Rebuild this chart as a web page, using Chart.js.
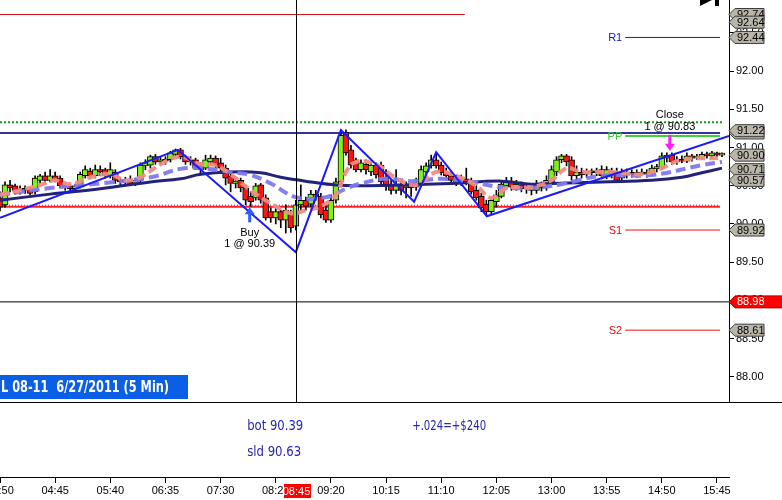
<!DOCTYPE html>
<html lang="en">
<head>
<meta charset="utf-8">
<title>CL 08-11 6/27/2011 (5 Min)</title>
<script src="https://cdn.jsdelivr.net/npm/chart.js@4.4.1/dist/chart.umd.min.js"></script>
<style>
  html, body { margin: 0; padding: 0; background: #ffffff; overflow: hidden; }
  #chart { position: absolute; left: 0; top: 0; }
</style>
</head>
<body>
<canvas id="chart" width="782" height="500"></canvas>
<script>
// bar 0 is 03:50, one candle every 5 minutes
const startMinute = 230;
const barMinutes = 5;

const opens = [
  90.34, 90.25, 90.51, 90.50, 90.43, 90.46, 90.46, 90.42, 90.57, 90.63,
  90.57, 90.63, 90.60, 90.50, 90.50, 90.46, 90.50, 90.63, 90.69, 90.63,
  90.71, 90.71, 90.63, 90.68, 90.57, 90.55, 90.57, 90.53, 90.57, 90.76,
  90.77, 90.88, 90.81, 90.84, 90.84, 90.91, 90.97, 90.88, 90.81, 90.84,
  90.77, 90.73, 90.81, 90.86, 90.80, 90.73, 90.63, 90.53, 90.57, 90.47,
  90.36, 90.34, 90.51, 90.34, 90.16, 90.08, 90.16, 90.05, 90.13, 89.97,
  90.25, 90.31, 90.26, 90.39, 90.36, 90.18, 90.05, 90.31, 90.55, 91.20,
  90.97, 90.84, 90.71, 90.78, 90.68, 90.77, 90.77, 90.60, 90.51, 90.44,
  90.52, 90.47, 90.50, 90.48, 90.53, 90.68, 90.76, 90.84, 90.77, 90.68,
  90.63, 90.60, 90.53, 90.59, 90.55, 90.44, 90.36, 90.26, 90.16, 90.29,
  90.36, 90.50, 90.56, 90.48, 90.51, 90.46, 90.47, 90.44, 90.50, 90.47,
  90.55, 90.68, 90.84, 90.89, 90.84, 90.63, 90.68, 90.65, 90.68, 90.67,
  90.71, 90.63, 90.69, 90.68, 90.60, 90.68, 90.65, 90.67, 90.65, 90.68,
  90.65, 90.72, 90.73, 90.86, 90.90, 90.81, 90.84, 90.82, 90.89, 90.86,
  90.86, 90.91, 90.89, 90.93, 90.90
];
const highs = [
  90.42, 90.55, 90.57, 90.52, 90.50, 90.50, 90.48, 90.63, 90.65, 90.68,
  90.71, 90.68, 90.63, 90.53, 90.52, 90.52, 90.68, 90.76, 90.73, 90.77,
  90.76, 90.73, 90.80, 90.71, 90.61, 90.61, 90.63, 90.60, 90.80, 90.84,
  90.90, 90.91, 90.88, 90.88, 90.95, 90.98, 90.99, 90.90, 90.88, 90.86,
  90.80, 90.90, 90.90, 90.89, 90.86, 90.77, 90.68, 90.60, 90.60, 90.51,
  90.42, 90.53, 90.53, 90.38, 90.21, 90.23, 90.18, 90.25, 90.18, 90.31,
  90.51, 90.35, 90.44, 90.44, 90.40, 90.25, 90.38, 90.60, 91.23, 91.23,
  91.03, 90.86, 90.84, 90.84, 90.81, 90.80, 90.81, 90.71, 90.57, 90.71,
  90.57, 90.55, 90.53, 90.60, 90.76, 90.80, 90.90, 90.93, 90.81, 90.73,
  90.68, 90.64, 90.64, 90.73, 90.60, 90.50, 90.40, 90.31, 90.35, 90.44,
  90.57, 90.61, 90.61, 90.57, 90.55, 90.52, 90.51, 90.57, 90.55, 90.63,
  90.76, 90.88, 90.91, 90.91, 90.88, 90.76, 90.73, 90.72, 90.72, 90.73,
  90.76, 90.75, 90.73, 90.73, 90.72, 90.72, 90.71, 90.71, 90.72, 90.71,
  90.77, 90.78, 90.93, 90.93, 90.93, 90.88, 90.89, 90.93, 90.91, 90.91,
  90.94, 90.94, 90.95, 90.94, 90.93
];
const lows = [
  90.17, 90.22, 90.42, 90.39, 90.39, 90.40, 90.38, 90.39, 90.53, 90.53,
  90.55, 90.55, 90.47, 90.44, 90.42, 90.43, 90.47, 90.60, 90.59, 90.60,
  90.63, 90.60, 90.60, 90.53, 90.51, 90.51, 90.50, 90.50, 90.55, 90.71,
  90.73, 90.78, 90.77, 90.78, 90.81, 90.89, 90.85, 90.78, 90.77, 90.71,
  90.64, 90.71, 90.77, 90.73, 90.68, 90.51, 90.42, 90.47, 90.42, 90.25,
  90.23, 90.31, 90.27, 90.05, 90.02, 90.00, 89.95, 89.88, 89.89, 89.92,
  90.18, 90.18, 90.21, 90.31, 90.08, 90.02, 90.02, 90.27, 90.51, 90.90,
  90.73, 90.68, 90.68, 90.65, 90.63, 90.60, 90.52, 90.44, 90.39, 90.40,
  90.38, 90.34, 90.36, 90.44, 90.51, 90.64, 90.73, 90.73, 90.64, 90.59,
  90.53, 90.50, 90.50, 90.51, 90.39, 90.31, 90.16, 90.12, 90.13, 90.22,
  90.34, 90.46, 90.44, 90.44, 90.42, 90.40, 90.38, 90.40, 90.43, 90.44,
  90.52, 90.63, 90.80, 90.76, 90.57, 90.57, 90.60, 90.61, 90.63, 90.63,
  90.59, 90.59, 90.60, 90.55, 90.56, 90.60, 90.61, 90.61, 90.63, 90.61,
  90.63, 90.68, 90.71, 90.81, 90.78, 90.78, 90.80, 90.80, 90.82, 90.84,
  90.84, 90.86, 90.86, 90.88, 90.88
];
const closes = [
  90.22, 90.51, 90.47, 90.43, 90.46, 90.44, 90.40, 90.60, 90.63, 90.57,
  90.63, 90.57, 90.50, 90.48, 90.46, 90.50, 90.65, 90.71, 90.63, 90.71,
  90.68, 90.63, 90.71, 90.57, 90.55, 90.57, 90.53, 90.57, 90.77, 90.80,
  90.88, 90.81, 90.84, 90.82, 90.93, 90.97, 90.88, 90.81, 90.84, 90.73,
  90.71, 90.84, 90.86, 90.77, 90.73, 90.60, 90.53, 90.56, 90.47, 90.31,
  90.29, 90.50, 90.31, 90.08, 90.08, 90.16, 90.05, 90.18, 89.95, 90.25,
  90.31, 90.23, 90.39, 90.36, 90.12, 90.05, 90.31, 90.55, 91.16, 90.93,
  90.77, 90.71, 90.80, 90.71, 90.77, 90.64, 90.55, 90.50, 90.44, 90.52,
  90.44, 90.50, 90.47, 90.53, 90.71, 90.76, 90.84, 90.76, 90.67, 90.63,
  90.57, 90.52, 90.59, 90.55, 90.42, 90.34, 90.21, 90.16, 90.31, 90.38,
  90.52, 90.56, 90.48, 90.52, 90.46, 90.48, 90.44, 90.50, 90.47, 90.57,
  90.71, 90.84, 90.89, 90.81, 90.63, 90.68, 90.64, 90.68, 90.67, 90.69,
  90.63, 90.71, 90.65, 90.57, 90.68, 90.64, 90.67, 90.65, 90.68, 90.65,
  90.73, 90.75, 90.89, 90.90, 90.81, 90.84, 90.82, 90.89, 90.86, 90.88,
  90.91, 90.89, 90.93, 90.90, 90.90
];

// moving averages at a few bars
const fastBars = [0, 4, 8, 11, 14, 18, 22, 25, 28, 32, 36, 40, 43, 46, 50, 54, 58, 61, 64, 67,
  69, 71, 75, 79, 83, 87, 91, 95, 98, 101, 106, 110, 113, 116, 122, 128, 132, 136, 144];
const fastMa = [90.38, 90.44, 90.51, 90.57, 90.52, 90.61, 90.65, 90.57, 90.61, 90.78, 90.88, 90.78, 90.77, 90.65, 90.44, 90.27, 90.14, 90.18, 90.23, 90.38,
  90.68, 90.81, 90.78, 90.60, 90.51, 90.68, 90.63, 90.50, 90.34, 90.47, 90.48, 90.57, 90.73, 90.68, 90.68, 90.65, 90.73, 90.84, 90.86];
const midBars = [0, 10, 20, 30, 36, 40, 46, 50, 54, 59, 65, 69, 72, 77, 82, 88, 94, 100, 106, 112, 120, 130, 140, 144];
const midMa = [90.38, 90.47, 90.53, 90.61, 90.72, 90.73, 90.68, 90.64, 90.53, 90.35, 90.35, 90.46, 90.53, 90.59, 90.56, 90.59, 90.55, 90.48, 90.47, 90.52, 90.63, 90.64, 90.77, 90.81];
const slowBars = [0, 10, 20, 30, 36, 40, 46, 52, 56, 62, 67, 72, 80, 90, 100, 106, 110, 120, 130, 136, 140, 144];
const slowMa = [90.31, 90.39, 90.46, 90.55, 90.59, 90.65, 90.68, 90.67, 90.61, 90.55, 90.51, 90.50, 90.51, 90.53, 90.56, 90.52, 90.53, 90.55, 90.57, 90.61, 90.67, 90.73];

// zigzag swing points
const swingBars = [0, 35.5, 59, 68, 82.6, 87, 97.1, 145.4];
const swingPrices = [90.08, 90.97, 89.63, 91.23, 90.29, 90.94, 90.10, 91.15];

// horizontal levels
const levelNames = ['top', 'R1', 'highDots', 'high', 'PP', 'low', 'lowDots', 'S1', 'S2', 'last'];
const levelPrices = [92.74, 92.44, 91.33, 91.19, 91.15, 90.225, 90.245, 89.92, 88.61, 88.98];
const levelFrom = [0, 124.7, 0, 0, 124.7, 0, 0, 124.7, 124.7, 0];
const levelTo = [92.7, 143.6, 144, 143.6, 143.6, 143.6, 143.6, 143.6, 143.6, 146];
const pivotNames = ['R1', 'PP', 'S1', 'S2'];

// price tags on the right axis
const tagPrices = [92.74, 92.64, 92.44, 91.19, 91.22, 90.90, 90.71, 90.57, 89.92, 88.61];
const lastPrice = 88.98;

// trades
const buyBar = 50, buyText = '1 @ 90.39';
const closeBar = 134, closeText = '1 @ 90.83';
const crossBar = 59;
const title = 'L 08-11  6/27/2011 (5 Min)';
const notes = ['bot 90.39', 'sld 90.63', '+.024=+$240'];

const sans = "'Liberation Sans', Arial, sans-serif";
const narrow = "'Liberation Sans Narrow', 'DejaVu Sans Condensed', 'Liberation Sans', Arial, sans-serif";

const levelStyle = {
  top: { color: '#cc1111', width: 1 },
  R1: { color: '#1414e6', width: 1, text: '#1414c8' },
  highDots: { color: '#179a17', width: 2, dash: [2, 2] },
  high: { color: '#34349c', width: 2 },
  PP: { color: '#3cd23c', width: 2, text: '#3cc83c' },
  low: { color: '#ff2020', width: 2 },
  lowDots: { color: '#3a3ae0', width: 1, dash: [1, 2] },
  S1: { color: '#ee1111', width: 1, text: '#e01010' },
  S2: { color: '#ee1111', width: 1, text: '#e01010' },
  last: { color: '#000000', width: 1 }
};

const fmtTime = v => {
  const m = startMinute + Math.round(v) * barMinutes;
  return String(Math.floor(m / 60)).padStart(2, '0') + ':' + String(m % 60).padStart(2, '0');
};

const barIdx = opens.map((o, i) => i);

const datasets = [
  { type: 'line', data: swingBars.map((b, i) => ({ x: b, y: swingPrices[i] })),
    borderColor: '#1a1aff', borderWidth: 2, pointRadius: 0, tension: 0, order: 1 },
  { type: 'line', data: fastBars.map((b, i) => ({ x: b, y: fastMa[i] })),
    borderColor: 'rgba(242,140,130,0.95)', borderWidth: 4, borderDash: [9, 4], pointRadius: 0, tension: 0.4, order: 2 },
  { type: 'line', data: midBars.map((b, i) => ({ x: b, y: midMa[i] })),
    borderColor: 'rgba(128,120,240,0.95)', borderWidth: 4, borderDash: [10, 5], pointRadius: 0, tension: 0.4, order: 3 },
  { type: 'line', data: slowBars.map((b, i) => ({ x: b, y: slowMa[i] })),
    borderColor: '#22227a', borderWidth: 3, pointRadius: 0, tension: 0.4, order: 4 },
  { type: 'bar', data: barIdx.map(i => ({ x: i, y: [opens[i], closes[i]] })),
    backgroundColor: barIdx.map(i => closes[i] >= opens[i] ? '#7ff01a' : '#ff1414'),
    borderColor: '#000', borderWidth: 1, borderSkipped: false, barThickness: 6, minBarLength: 2,
    grouped: false, order: 5 },
  { type: 'bar', data: barIdx.map(i => ({ x: i, y: [lows[i], highs[i]] })),
    backgroundColor: '#000', barThickness: 1, grouped: false, order: 6 }
];

levelNames.forEach((name, i) => {
  const st = levelStyle[name];
  datasets.push({
    type: 'line',
    data: [{ x: levelFrom[i], y: levelPrices[i] }, { x: levelTo[i], y: levelPrices[i] }],
    borderColor: st.color, borderWidth: st.width, borderDash: st.dash || [],
    pointRadius: 0, order: name === 'lowDots' ? 7 : 8
  });
});

function drawTag(ctx, tip, cy, text, fill, edge, color, right) {
  ctx.beginPath();
  ctx.moveTo(tip, cy);
  ctx.lineTo(tip + 6, cy - 6);
  ctx.lineTo(right, cy - 6);
  ctx.lineTo(right, cy + 6);
  ctx.lineTo(tip + 6, cy + 6);
  ctx.closePath();
  ctx.fillStyle = fill;
  ctx.fill();
  ctx.strokeStyle = edge;
  ctx.lineWidth = 1;
  ctx.stroke();
  ctx.fillStyle = color;
  ctx.textAlign = 'left';
  ctx.textBaseline = 'middle';
  ctx.fillText(text, tip + 8, cy + 0.5);
}

// squeeze text into a given width (the original uses a narrow face)
function fitText(ctx, text, x, y, width) {
  const w = ctx.measureText(text).width;
  ctx.save();
  ctx.translate(x, y);
  ctx.scale(width / w, 1);
  ctx.fillText(text, 0, 0);
  ctx.restore();
}

const overlay = {
  id: 'overlay',
  afterDraw(chart) {
    const { ctx, chartArea: area } = chart;
    const { x, y, y2 } = chart.scales;
    ctx.save();

    // panel divider and crosshair
    ctx.strokeStyle = '#000';
    ctx.lineWidth = 1;
    const divY = Math.round(y.bottom) + 0.5;
    ctx.beginPath(); ctx.moveTo(0, divY); ctx.lineTo(chart.width, divY); ctx.stroke();
    const cx = Math.round(x.getPixelForValue(crossBar)) + 0.5;
    ctx.beginPath(); ctx.moveTo(cx, area.top); ctx.lineTo(cx, y.bottom); ctx.stroke();

    // pivot names
    ctx.font = '11px ' + sans;
    ctx.textAlign = 'right';
    ctx.textBaseline = 'middle';
    pivotNames.forEach(name => {
      const i = levelNames.indexOf(name);
      ctx.fillStyle = levelStyle[name].text;
      ctx.fillText(name, x.getPixelForValue(levelFrom[i]) - 3, y.getPixelForValue(levelPrices[i]) + 1);
    });

    // buy marker
    const bx = x.getPixelForValue(buyBar) - 1;
    const bt = y.getPixelForValue(lows[buyBar]) + 1;
    ctx.fillStyle = '#2a5cff';
    ctx.beginPath(); ctx.moveTo(bx, bt); ctx.lineTo(bx + 5, bt + 7); ctx.lineTo(bx - 5, bt + 7); ctx.closePath(); ctx.fill();
    ctx.fillRect(bx - 1.5, bt + 6, 3, 9);
    ctx.fillStyle = '#000';
    ctx.textAlign = 'center';
    ctx.fillText('Buy', bx, bt + 26);
    ctx.fillText(buyText, bx, bt + 37);

    // close marker
    const sx = x.getPixelForValue(closeBar) - 2;
    const st = y.getPixelForValue(highs[closeBar]) - 2;
    ctx.fillStyle = '#ff1aff';
    ctx.beginPath(); ctx.moveTo(sx, st); ctx.lineTo(sx + 5, st - 7); ctx.lineTo(sx - 5, st - 7); ctx.closePath(); ctx.fill();
    ctx.fillRect(sx - 1.5, st - 16, 3, 10);
    ctx.fillStyle = '#000';
    ctx.fillText(closeText, sx, st - 24);
    ctx.fillText('Close', sx, st - 36);

    // right axis tags
    tagPrices.forEach(p => drawTag(ctx, area.right, y.getPixelForValue(p), p.toFixed(2), '#b9b5a9', '#3c3c3c', '#000', area.right + 35));
    drawTag(ctx, area.right, y.getPixelForValue(lastPrice), lastPrice.toFixed(2), '#ff0000', '#b00000', '#fff', chart.width + 2);

    // crosshair time on the time axis
    ctx.fillStyle = '#ff0000';
    ctx.fillRect(Math.round(cx) - 13, x.top + 7, 27, 14);
    ctx.fillStyle = '#fff';
    ctx.textAlign = 'center';
    ctx.fillText(fmtTime(crossBar), cx, x.top + 14.5);

    // symbol box
    ctx.fillStyle = '#0b5fe6';
    ctx.fillRect(0, y.bottom - 27, 188, 24);
    ctx.fillStyle = '#fff';
    ctx.font = 'bold 16px ' + narrow;
    ctx.textAlign = 'left';
    fitText(ctx, title, 1, y.bottom - 14.5, 168);

    // trade notes in the lower panel
    ctx.fillStyle = '#2626b0';
    ctx.font = '14px ' + narrow;
    fitText(ctx, notes[0], x.getPixelForValue(49.3), y2.getPixelForValue(0.68), 56);
    fitText(ctx, notes[1], x.getPixelForValue(49.3), y2.getPixelForValue(0.33), 54);
    fitText(ctx, notes[2], x.getPixelForValue(82.2), y2.getPixelForValue(0.68), 74);

    // toolbar glyph cut by the top edge
    ctx.fillStyle = '#000';
    ctx.beginPath(); ctx.moveTo(700, 0); ctx.lineTo(712, 0); ctx.lineTo(700, 6); ctx.closePath(); ctx.fill();
    ctx.fillRect(715, 0, 4, 6);

    ctx.restore();
  }
};

Chart.defaults.font.family = sans;
Chart.defaults.font.size = 11;
Chart.defaults.color = '#000';

new Chart(document.getElementById('chart'), {
  type: 'bar',
  data: { datasets: datasets },
  options: {
    responsive: false,
    animation: false,
    layout: { padding: 0 },
    plugins: { legend: { display: false }, tooltip: { enabled: false } },
    scales: {
      x: {
        type: 'linear', min: 0, max: 145.4, offset: false,
        grid: { drawOnChartArea: false, tickLength: 6, color: '#000', offset: false },
        border: { color: '#000' },
        ticks: { stepSize: 11, includeBounds: false, autoSkip: false, maxRotation: 0, maxTicksLimit: 30,
                 padding: 1, callback: v => fmtTime(v) },
        afterFit: s => { s.height = 23; s.paddingLeft = 0; s.paddingRight = 0; }
      },
      y: {
        position: 'right', stack: 'panes', stackWeight: 402,
        min: 87.67, max: 92.93,
        grid: { drawOnChartArea: false, tickLength: 5, color: '#000' },
        border: { color: '#000' },
        ticks: { stepSize: 0.5, includeBounds: false, padding: 2, callback: v => v.toFixed(2) },
        afterFit: s => { s.width = 53; s.paddingTop = 0; s.paddingBottom = 0; }
      },
      y2: {
        position: 'right', stack: 'panes', stackWeight: 75,
        min: 0, max: 1,
        grid: { display: false },
        border: { display: false },
        ticks: { display: false },
        afterFit: s => { s.width = 53; s.paddingTop = 0; s.paddingBottom = 0; }
      }
    }
  },
  plugins: [overlay]
});
</script>
</body>
</html>
